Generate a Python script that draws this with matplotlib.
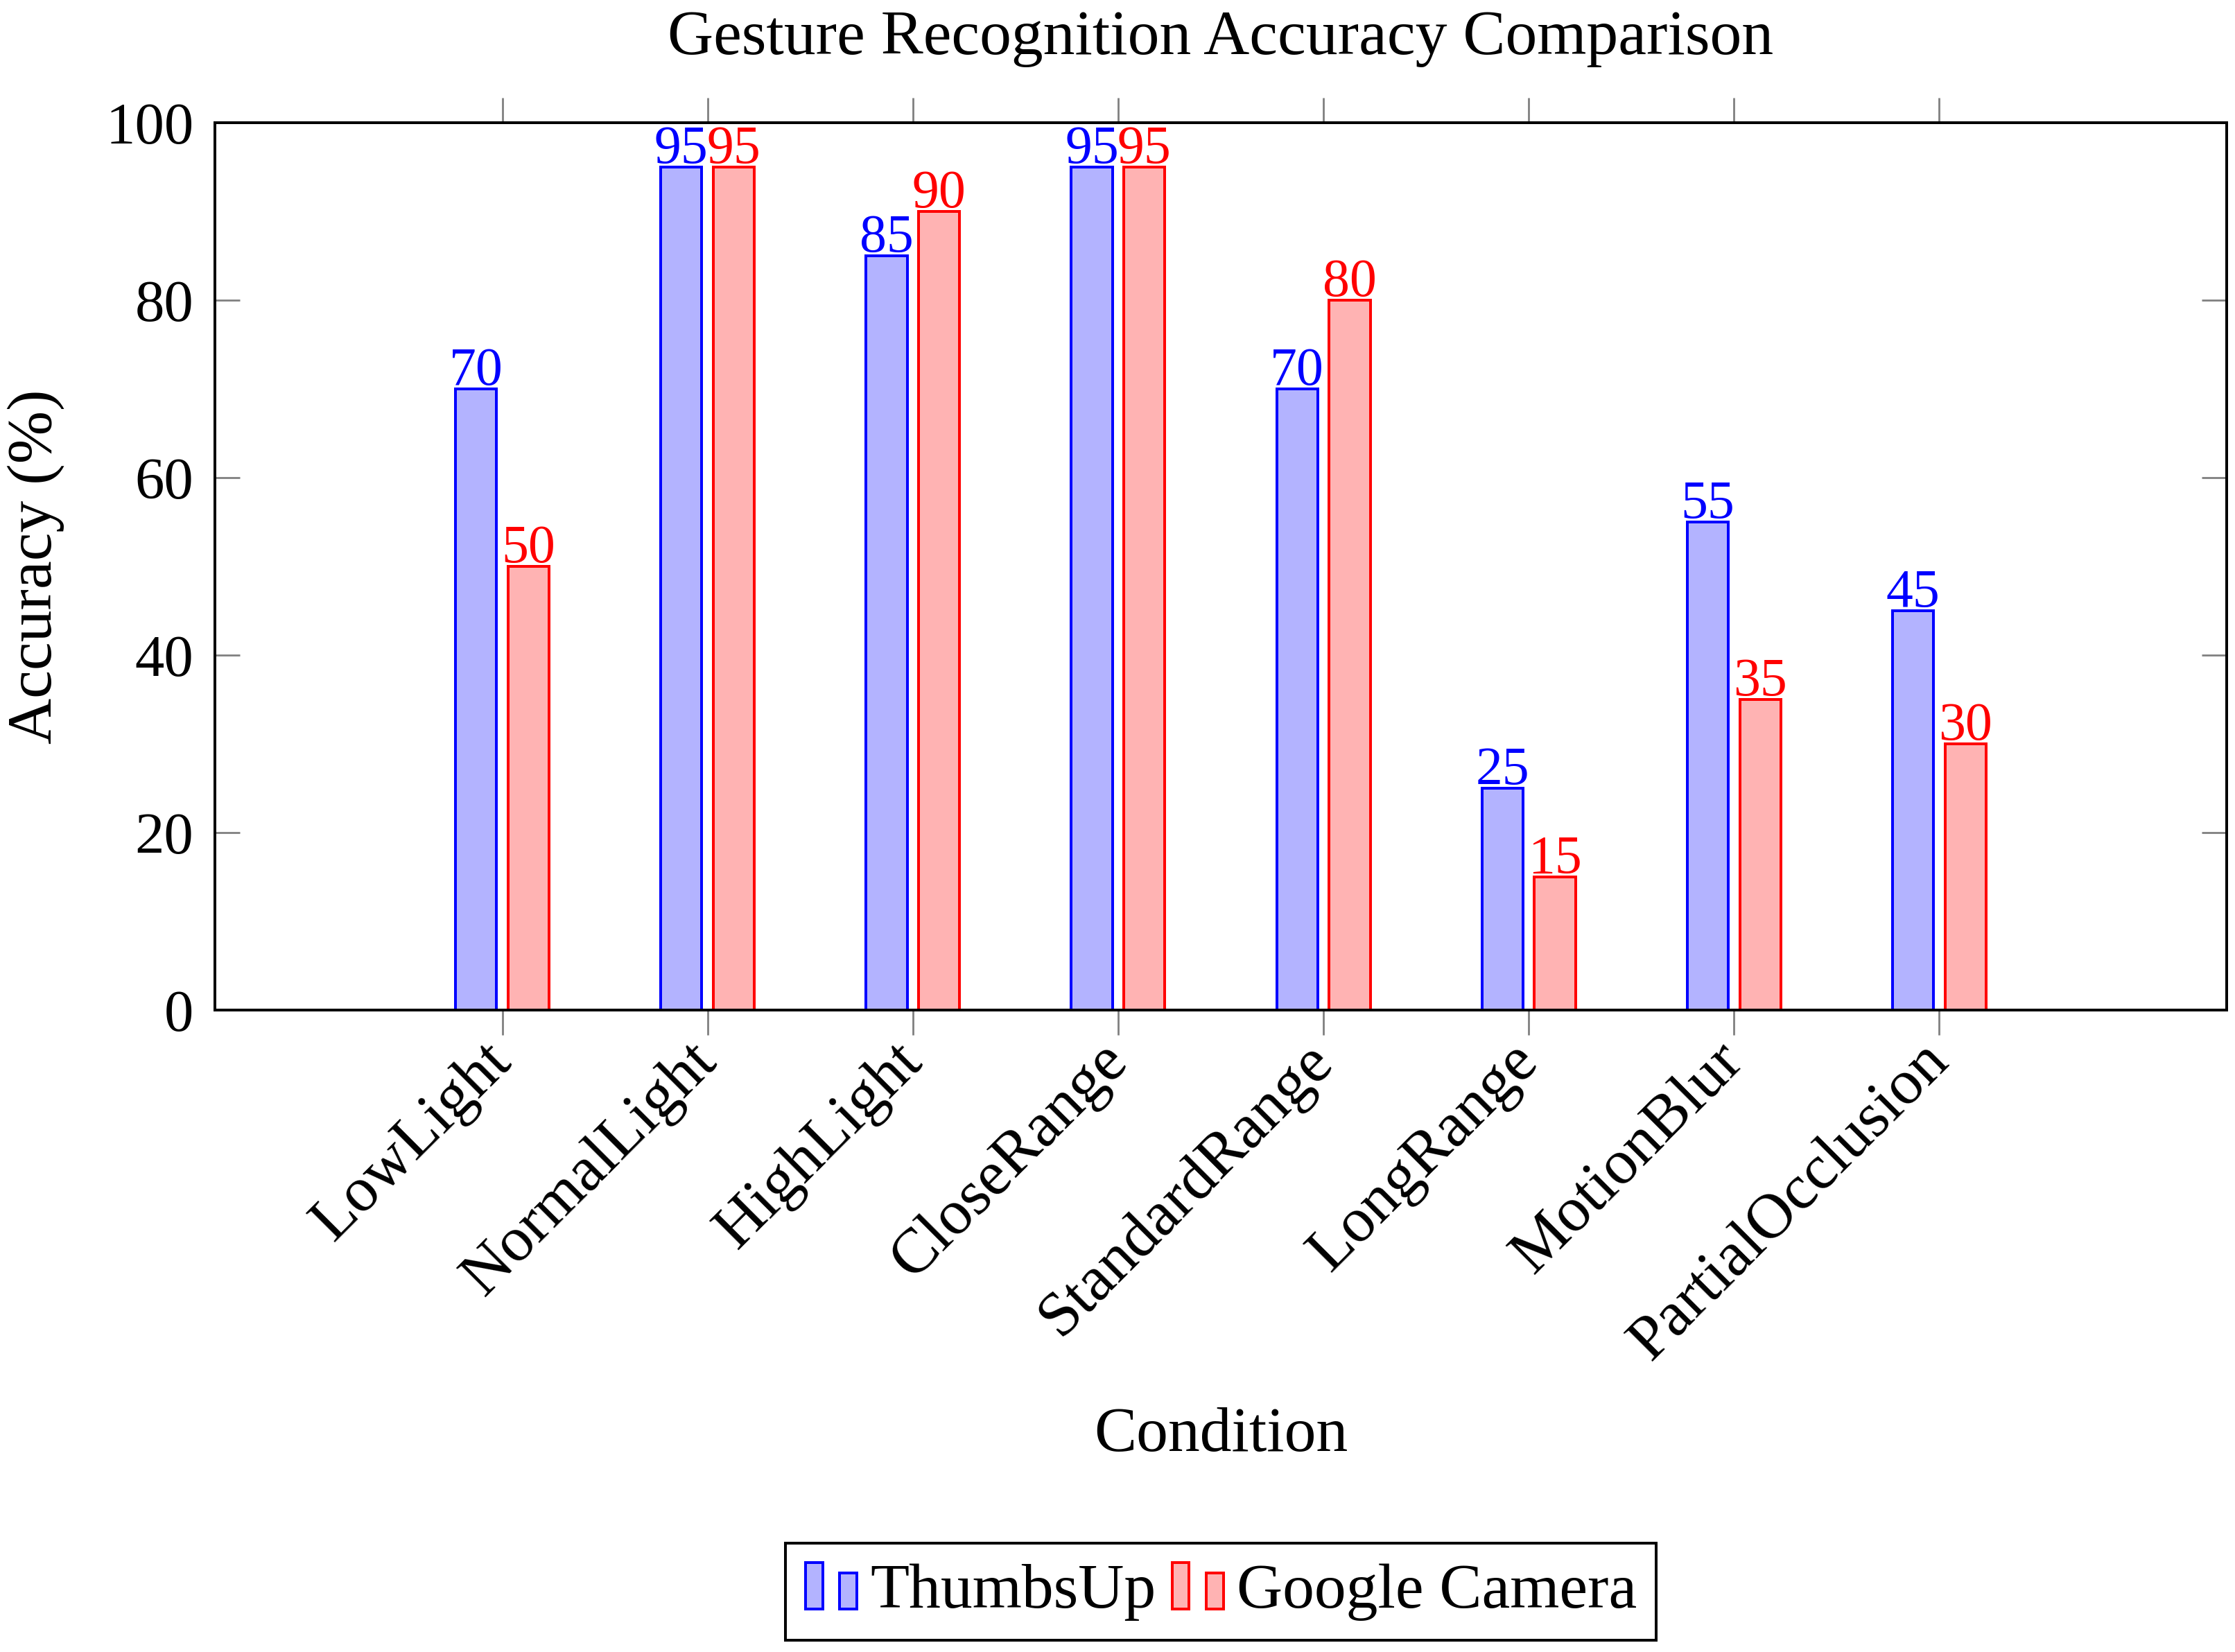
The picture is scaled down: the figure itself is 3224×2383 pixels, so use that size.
import matplotlib
matplotlib.use("Agg")
import matplotlib.pyplot as plt
import matplotlib.patches as mpatches
from matplotlib.legend_handler import HandlerBase
import numpy as np

categories = ["LowLight", "NormalLight", "HighLight", "CloseRange",
              "StandardRange", "LongRange", "MotionBlur", "PartialOcclusion"]
thumbsup = [70, 95, 85, 95, 70, 25, 55, 45]
google_camera = [50, 95, 90, 95, 80, 15, 35, 30]
series_names = ["ThumbsUp", "Google Camera"]
yticks = [0, 20, 40, 60, 80, 100]

plt.rcParams['font.family'] = ['Liberation Serif', 'DejaVu Serif']
plt.rcParams['mathtext.fontset'] = 'dejavuserif'

W, H, DPI = 3224, 2383, 200
fig = plt.figure(figsize=(W / DPI, H / DPI), dpi=DPI)
ax = fig.add_axes([310 / W, 1 - 1457 / H, (3212 - 310) / W, (1457 - 177) / H])

blue_edge = (0, 0, 1)
blue_fill = (0.70, 0.70, 1.0)
red_edge = (1, 0, 0)
red_fill = (1.0, 0.70, 0.70)

x = np.arange(len(categories))
bw = 0.2
off = 0.128
lw = 1.44
ax.bar(x - off, thumbsup, bw, color=blue_fill, edgecolor=blue_edge, linewidth=lw, zorder=3)
ax.bar(x + off, google_camera, bw, color=red_fill, edgecolor=red_edge, linewidth=lw, zorder=3)

lab_fs = 28
tick_fs = 30.5
text_fs = 33
for xi, v in zip(x, thumbsup):
    ax.annotate(str(v), (xi - off, v), xytext=(0, 2.2), textcoords='offset points',
                ha='center', va='baseline', color=blue_edge, fontsize=lab_fs, zorder=4)
for xi, v in zip(x, google_camera):
    ax.annotate(str(v), (xi + off, v), xytext=(0, 2.2), textcoords='offset points',
                ha='center', va='baseline', color=red_edge, fontsize=lab_fs, zorder=4)

ax.set_xlim(-1.4, 8.4)
ax.set_ylim(0, 100)
ax.set_yticks(yticks)
ax.set_yticklabels([str(t) for t in yticks], fontsize=tick_fs)
ax.set_xticks(x)
ax.set_xticklabels(categories, fontsize=text_fs, rotation=45, ha='right',
                   va='center', rotation_mode='anchor')

for s in ax.spines.values():
    s.set_linewidth(1.44)
    s.set_color('black')
    s.set_zorder(5)

gray = (0.5, 0.5, 0.5)
ax.tick_params(axis='x', which='both', direction='out', length=13, width=1.0,
               color=gray, top=True, bottom=True, labeltop=False, pad=9)
ax.tick_params(axis='y', which='both', direction='in', length=13, width=1.0,
               color=gray, left=True, right=True, labelright=False, pad=11)

fig.text(1761 / W, 1 - 78 / H, "Gesture Recognition Accuracy Comparison",
         ha='center', va='baseline', fontsize=text_fs)
fig.text(1761 / W, 1 - 2093 / H, "Condition", ha='center', va='baseline', fontsize=text_fs)
fig.text(52 / W, 1 - 817 / H, "Accuracy (%)", ha='center', va='center',
         rotation=90, fontsize=text_fs)


class TwoBarHandler(HandlerBase):
    def create_artists(self, legend, orig_handle, xdescent, ydescent, width, height,
                       fontsize, trans):
        fc = orig_handle.get_facecolor()
        ec = orig_handle.get_edgecolor()
        bwid = width * 0.32
        r1 = mpatches.Rectangle((-xdescent + width * 0.02, -ydescent), bwid, height,
                                facecolor=fc, edgecolor=ec, linewidth=lw, transform=trans)
        r2 = mpatches.Rectangle((-xdescent + width * 0.66, -ydescent), bwid, height * 0.77,
                                facecolor=fc, edgecolor=ec, linewidth=lw, transform=trans)
        return [r1, r2]


h1 = mpatches.Patch(facecolor=blue_fill, edgecolor=blue_edge)
h2 = mpatches.Patch(facecolor=red_fill, edgecolor=red_edge)
leg = fig.legend([h1, h2], series_names, loc='center',
                 bbox_to_anchor=(1761 / W, 1 - 2296 / H), ncol=2,
                 fontsize=text_fs, frameon=True, fancybox=False, shadow=False,
                 handler_map={mpatches.Patch: TwoBarHandler()},
                 handlelength=0.84, handleheight=0.75, handletextpad=0.2,
                 columnspacing=0.23, borderpad=0.3, borderaxespad=0)
leg.get_frame().set_edgecolor('black')
leg.get_frame().set_linewidth(1.44)
leg.get_frame().set_alpha(1)

fig.savefig("out.png", dpi=DPI)
